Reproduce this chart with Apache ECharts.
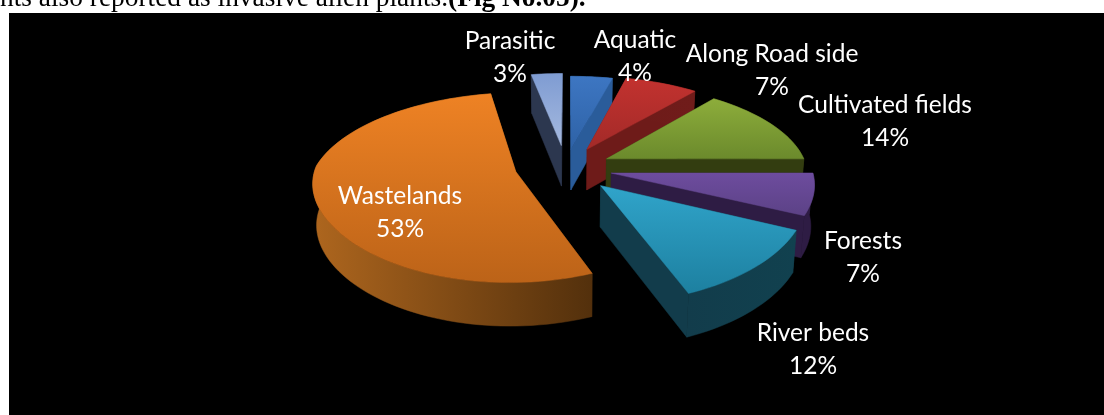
<!DOCTYPE html>
<html><head><meta charset="utf-8">
<style>html,body{margin:0;padding:0;background:#fff;overflow:hidden}#c{width:1104px;height:415px}</style>
<script src="https://cdn.jsdelivr.net/npm/echarts@6/dist/echarts.min.js"></script>
</head><body><div id="c"></div>
<script>
const categories = ['Aquatic','Along Road side','Cultivated fields','Forests','River beds','Wastelands','Parasitic'];
const shares = [4,7,14,7,12,53,3];
const sliceShiftX = [2,18.6,38,42,31,-53,-8];
const sliceShiftZ = [-38,-38,-16,15.5,42,12,-47];
const topColors = [['#3D76C2','#2E62A6'],['#C2322F','#A32A28'],['#8DAD3B','#6B8A2C'],['#6D4C9E','#5C4286'],['#30A4CA','#1D80A0'],['#EE8224','#BC6318'],['#7F9CD2','#A5B9DF']];
const wallColors = [['#2A5C9A','#2A5C9A'],['#6E1B19','#701C1A'],['#333D10','#333D10'],['#2E1C44','#2E1C44'],['#123C4B','#11414F'],['#AE661E','#53300C'],['#2C374F','#2C374F']];
const labelAnchors = [[635,57],[772,71],[885,122],[863,258],[813,350],[400,213],[510,58]];
const drawOrder = [6,0,1,2,3,5,4];

const CX=569, CY=166, R=200, K=0.452, D=1190, H=41;
const total = shares.reduce((a,b)=>a+b,0);
const starts=[]; let acc=0;
shares.forEach(v=>{starts.push(acc/total*360);acc+=v;});
const rad=d=>d*Math.PI/180;
function proj(wx,wz,down){
  const s=D/(D-wz);
  const sx=s<1?s:1+(s-1)*0.6;
  const bx=down?0.985:1;
  return [CX+sx*wx*bx, CY+s*K*wz+(down?H*Math.pow(s,0.3):0)];
}
function grad(x,y,x2,y2,c){
  return {type:'linear',global:true,x,y,x2,y2,colorStops:[{offset:0,color:c[0]},{offset:1,color:c[1]}]};
}
function renderItem(params,api){
  const i=api.value(0), a0=starts[i], a1=a0+api.value(1)/total*360;
  const ox=sliceShiftX[i], oz=sliceShiftZ[i];
  const rimW=[];
  const n=Math.max(4,Math.ceil((a1-a0)/2));
  for(let j=0;j<=n;j++){
    const a=a0+(a1-a0)*j/n;
    rimW.push([ox+R*Math.sin(rad(a)), oz-R*Math.cos(rad(a))]);
  }
  const topRim=rimW.map(p=>proj(p[0],p[1],false));
  const botRim=rimW.map(p=>proj(p[0],p[1],true));
  const apexT=proj(ox,oz,false), apexB=proj(ox,oz,true);
  const face=topRim.concat([apexT]);
  const ys=face.map(p=>p[1]), xs=botRim.concat(topRim).map(p=>p[0]);
  const minY=Math.min(...ys), maxY=Math.max(...ys), minX=Math.min(...xs), maxX=Math.max(...xs);
  const wall=grad(minX,0,maxX,0,wallColors[i]);
  const poly=(pts,fill)=>({type:'polygon',shape:{points:pts},style:{fill,stroke:fill,lineWidth:0.5}});
  return {type:'group',children:[
    poly([apexT,topRim[0],botRim[0],apexB],wallColors[i][1]),
    poly([apexT,topRim[n],botRim[n],apexB],wallColors[i][0]),
    poly(topRim.concat(botRim.slice().reverse()),wall),
    poly(face,grad(0,minY,0,maxY,topColors[i]))
  ]};
}
function labelItem(params,api){
  const i=api.value(0);
  return {type:'text',z2:100,style:{text:categories[i]+'\n'+api.value(1)+'%',x:labelAnchors[i][0],y:labelAnchors[i][1],
    fill:'#fff',font:'24.5px Lato',lineHeight:33,align:'center',verticalAlign:'middle'}};
}
const rows=drawOrder.map(i=>[i,shares[i]]);
const chart=echarts.init(document.getElementById('c'),null,{renderer:'canvas'});
chart.setOption({
  animation:false,
  graphic:{elements:[
    {type:'rect',z:-5,shape:{x:9,y:13,width:1095,height:402},style:{fill:'#000'}},
    {type:'text',z:-4,style:{x:0,y:-15,text:'{a|nts also reported as invasive alien plants.}{b|(Fig No.05).}',
      rich:{a:{font:'27.4px "Liberation Serif"',fill:'#000'},b:{font:'bold 27.4px "Liberation Serif"',fill:'#000'}}}}
  ]},
  series:[
    {type:'custom',coordinateSystem:'none',renderItem,data:rows,z:2,silent:true},
    {type:'custom',coordinateSystem:'none',renderItem:labelItem,data:rows,z:3,silent:true}
  ]
});
</script></body></html>
